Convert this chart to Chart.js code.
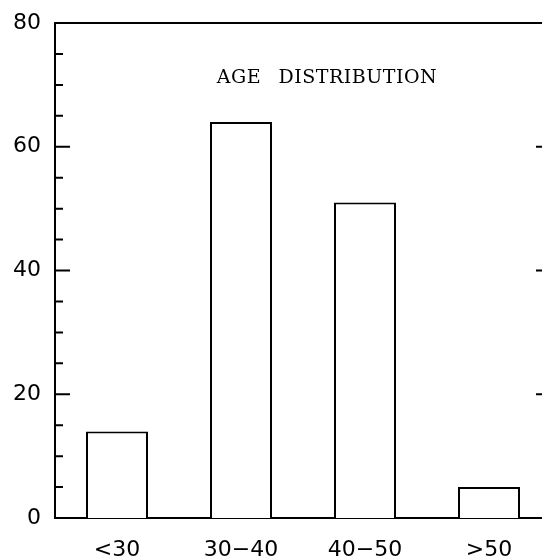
<!DOCTYPE html>
<html>
<head>
<meta charset="utf-8">
<script src="https://cdn.jsdelivr.net/npm/chart.js"></script>
<style>
  html, body { margin: 0; padding: 0; background: #fff; overflow: hidden; }
  #wrap { position: absolute; left: 0; top: 0; width: 580px; height: 558px; }
</style>
</head>
<body>
<div id="wrap"><canvas id="ageChart"></canvas></div>
<script>
    // Age groups and counts
    const ageGroups = ['<30', '30\u221240', '40\u221250', '>50'];
    const ageCounts = [14, 64, 51, 5];
    const yTickValues = [0, 20, 40, 60, 80];
    const chartTitle = 'AGE DISTRIBUTION';

    // Draws inward tick marks, the top/right frame and the title
    const frameAndTicks = {
        id: 'frameAndTicks',
        afterDraw(chart) {
            const ctx = chart.ctx;
            const area = chart.chartArea;
            const y = chart.scales.y;
            ctx.save();
            ctx.strokeStyle = '#000';
            ctx.lineWidth = 2;
            ctx.beginPath();
            ctx.moveTo(area.left, area.top);
            ctx.lineTo(area.right, area.top);
            ctx.lineTo(area.right, area.bottom);
            ctx.stroke();

            y.ticks.forEach(t => {
                if (t.value === y.min || t.value === y.max) return;
                const py = y.getPixelForValue(t.value);
                const len = yTickValues.includes(t.value) ? 15 : 8;
                ctx.beginPath();
                ctx.moveTo(area.left, py);
                ctx.lineTo(area.left + len, py);
                ctx.moveTo(area.right, py);
                ctx.lineTo(area.right - len, py);
                ctx.stroke();
            });

            ctx.fillStyle = '#000';
            ctx.font = '19px "DejaVu Serif"';
            ctx.letterSpacing = '0.5px';
            ctx.wordSpacing = '11px';
            ctx.textAlign = 'center';
            ctx.textBaseline = 'middle';
            ctx.fillText(chartTitle, area.left + 272, area.top + 55);
            ctx.restore();
        }
    };

    const tickFont = { family: '"DejaVu Sans", sans-serif', size: 22 };

    const ageConfig = {
        type: 'bar',
        data: {
            labels: ageGroups,
            datasets: [{
                label: 'Age distribution',
                data: ageCounts,
                backgroundColor: '#fff',
                borderColor: '#000',
                borderWidth: 2,
                barPercentage: 0.5,
                categoryPercentage: 1.0
            }]
        },
        options: {
            responsive: true,
            maintainAspectRatio: false,
            animation: false,
            layout: { padding: { top: 23, right: 29, left: 0, bottom: 0 } },
            plugins: {
                legend: { display: false },
                tooltip: { enabled: false },
                title: { display: false }
            },
            scales: {
                x: {
                    offset: true,
                    grid: { display: false, drawTicks: false },
                    border: { display: true, color: '#000', width: 2 },
                    ticks: {
                        color: '#000',
                        padding: 19,
                        maxRotation: 0,
                        font: tickFont
                    },
                    afterFit(scale) { scale.height = 40; }
                },
                y: {
                    min: 0,
                    max: 80,
                    grid: { display: false, drawTicks: false },
                    border: { display: true, color: '#000', width: 2 },
                    ticks: {
                        stepSize: 5,
                        color: '#000',
                        padding: 14,
                        autoSkip: false,
                        font: tickFont,
                        callback: (v) => yTickValues.includes(v) ? String(v) : ''
                    },
                    afterFit(scale) {
                        scale.width = 55;
                        scale.paddingTop = 0;
                        scale.paddingBottom = 0;
                    }
                }
            }
        },
        plugins: [frameAndTicks]
    };

    const ageChart = new Chart(document.getElementById('ageChart'), ageConfig);
</script>
</body>
</html>
